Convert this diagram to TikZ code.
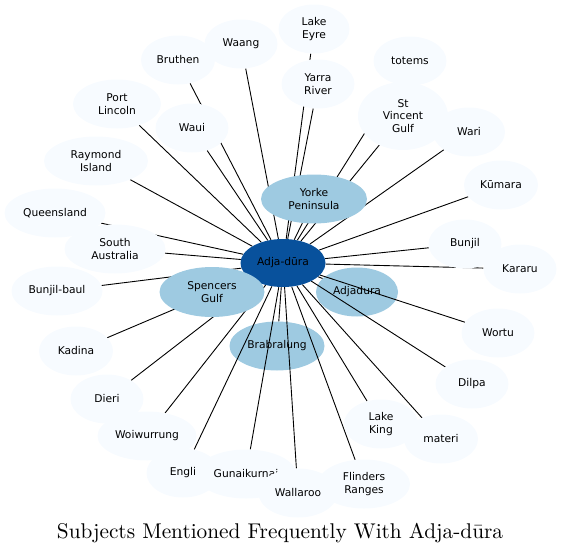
\documentclass[tikz,border=0pt]{standalone}
\usepackage{fontspec}
\usepackage{xcolor}
\usetikzlibrary{shapes.geometric}
\newfontfamily\labelfont{DejaVu Sans}
\newfontfamily\captionfont{lmroman10-regular}[Extension=.otf]
\definecolor{hubblue}{HTML}{08519C}
\definecolor{midblue}{HTML}{9ECAE1}
\definecolor{paleblue}{HTML}{F7FBFF}
\pgfdeclarelayer{under}
\pgfdeclarelayer{edges}
\pgfsetlayers{under,edges,main}

\begin{document}
\begin{tikzpicture}[x=1pt,y=-1pt,
    blob/.style={ellipse, inner sep=0pt, minimum height=49pt, align=center,
        font=\labelfont\fontsize{10.7}{12.5}\selectfont},
    sub/.style={blob, fill=paleblue, minimum width=73pt},
    mid/.style={blob, fill=midblue},
    hub/.style={blob, fill=hubblue, minimum width=85pt, minimum height=48pt},
    spoke/.style={draw=black, line width=.9pt},
    title/.style={anchor=base, font=\captionfont\fontsize{21.3}{25}\selectfont}]
            \useasboundingbox (0,0) rectangle (562,554);
            % these two sit under the spokes
            \begin{pgfonlayer}{under}
            \node[mid, minimum width=82pt] (adjadura)   at (357,292) {Adjadura};
            \node[mid, minimum width=95pt] (brabralung) at (277,346) {Brabralung};
            \end{pgfonlayer}
            \node[hub] (adja) at (283,263) {Adja-dūra};
            \node[mid, minimum width=105pt, minimum height=50pt] (spencers) at (212,292) {Spencers\\Gulf};
            \node[mid, minimum width=106pt] (yorke) at (314,199) {Yorke\\Peninsula};
            % outer ring, clockwise from the top
            \node[sub, minimum width=71pt] (lakeeyre) at (314,29) {Lake\\Eyre};
            \node[sub] (yarra) at (318,84) {Yarra\\River};
            \node[sub] (totems) at (410,61) {totems};
            \node[sub, minimum width=90pt, minimum height=68pt] (stvincent) at (403,116) {St\\Vincent\\Gulf};
            \node[sub, minimum width=72pt] (wari) at (469,132) {Wari};
            \node[sub, minimum width=74pt] (kumara) at (501,185) {Kūmara};
            \node[sub] (bunjil) at (465,244) {Bunjil};
            \node[sub] (kararu) at (520,269) {Kararu};
            \node[sub] (wortu) at (498,333) {Wortu};
            \node[sub] (dilpa) at (472,384) {Dilpa};
            \node[sub, minimum width=74pt] (lakeking) at (381,424) {Lake\\King};
            \node[sub, minimum width=74pt] (materi) at (441,439) {materi};
            \node[sub] (engli) at (183,473) {Engli};
            \node[sub, minimum width=100pt] (gunai) at (246,474) {Gunaikurnai};
            \node[sub, minimum width=79pt] (wallaroo) at (298,493) {Wallaroo};
            \node[sub, minimum width=92pt] (flinders) at (364,484) {Flinders\\Ranges};
            \node[sub, minimum width=99pt] (woiwurrung) at (147,436) {Woiwurrung};
            \node[sub] (dieri) at (107,399) {Dieri};
            \node[sub, minimum width=74pt] (kadina) at (76,351) {Kadina};
            \node[sub, minimum width=91pt] (bunjilbaul) at (57,291) {Bunjil-baul};
            \node[sub, minimum width=101pt] (queensland) at (55,213) {Queensland};
            \node[sub, minimum width=101pt] (southaus) at (115,249) {South\\Australia};
            \node[sub, minimum width=104pt] (raymond) at (96,161) {Raymond\\Island};
            \node[sub, minimum width=88pt] (portlincoln) at (117,104) {Port\\Lincoln};
            \node[sub, minimum width=74pt] (bruthen) at (178,60) {Bruthen};
            \node[sub] (waui) at (192,128) {Waui};
            \node[sub] (waang) at (241,44) {Waang};
            \begin{pgfonlayer}{edges}
            \draw[spoke] (adja) -- (adjadura);
            \draw[spoke] (adja) -- (brabralung);
            \draw[spoke] (adja) -- (spencers);
            \draw[spoke] (adja) -- (yorke);
            \draw[spoke] (adja) -- (lakeeyre);
            \draw[spoke] (adja) -- (yarra);
            \draw[spoke] (adja) -- (totems);
            \draw[spoke] (adja) -- (stvincent);
            \draw[spoke] (adja) -- (wari);
            \draw[spoke] (adja) -- (kumara);
            \draw[spoke] (adja) -- (bunjil);
            \draw[spoke] (adja) -- (kararu);
            \draw[spoke] (adja) -- (wortu);
            \draw[spoke] (adja) -- (dilpa);
            \draw[spoke] (adja) -- (lakeking);
            \draw[spoke] (adja) -- (materi);
            \draw[spoke] (adja) -- (flinders);
            \draw[spoke] (adja) -- (wallaroo);
            \draw[spoke] (adja) -- (gunai);
            \draw[spoke] (adja) -- (engli);
            \draw[spoke] (adja) -- (woiwurrung);
            \draw[spoke] (adja) -- (dieri);
            \draw[spoke] (adja) -- (kadina);
            \draw[spoke] (adja) -- (bunjilbaul);
            \draw[spoke] (adja) -- (southaus);
            \draw[spoke] (adja) -- (queensland);
            \draw[spoke] (adja) -- (raymond);
            \draw[spoke] (adja) -- (portlincoln);
            \draw[spoke] (adja) -- (waui);
            \draw[spoke] (adja) -- (bruthen);
            \draw[spoke] (adja) -- (waang);
            \end{pgfonlayer}
            \node[title] (caption) at (280,538) {Subjects Mentioned Frequently With Adja-dūra};
        \end{tikzpicture}
\end{document}
